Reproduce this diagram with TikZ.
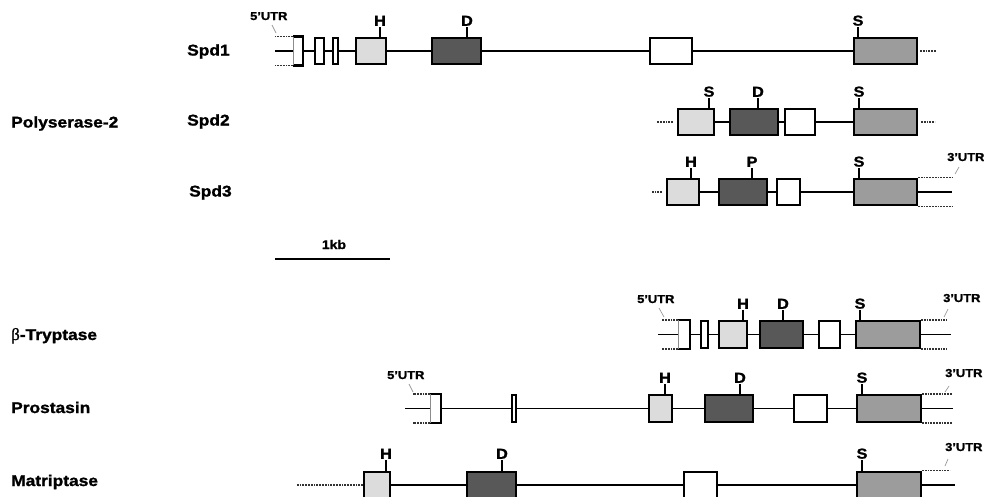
\documentclass[tikz,border=0pt]{standalone}
\usepackage{fontspec}
\setmainfont[FakeStretch=1.12, BoldFeatures={FakeBold=1.3}]{Liberation Sans}
\newfontfamily\greekfont[FakeBold=1.2]{Liberation Serif}
\definecolor{exlight}{HTML}{DCDCDC}
\definecolor{exdark}{HTML}{585858}
\definecolor{exmid}{HTML}{9C9C9C}
\definecolor{leadgray}{HTML}{9A9A9A}
\tikzset{
  exon/.style={draw=black, line width=2.3pt, inner sep=0pt, minimum height=26.5pt},
  lightex/.style={fill=exlight},
  darkex/.style={fill=exdark},
  midex/.style={fill=exmid},
  whiteex/.style={fill=white},
  backbone/.style={line width=1.9pt, black},
  utrdot/.style={line width=1.6pt, black!80, dash pattern=on 1.8pt off 1pt},
  utrside/.style={line width=0.8pt, black!45},
  leader/.style={line width=0.7pt, leadgray},
  sitetext/.style={font=\fontsize{14.5}{15}\selectfont\bfseries, inner sep=1pt, anchor=south},
  tickline/.style={line width=1.8pt, black},
  genelabel/.style={font=\fontsize{15.5}{17}\selectfont\bfseries, inner sep=0pt, anchor=base west},
  utrlabel/.style={font=\fontsize{11.5}{12}\selectfont\bfseries, inner sep=0pt, anchor=base west},
}
% name, x1, x2, ycenter, style
\newcommand\exonbox[5]{\node[exon,#5,minimum width={(#3-#2-2.3)*1pt}] (#1) at ({(#2+#3)/2},#4) {};}
% name, x1, x2, ycenter
\newcommand\utrexon[4]{%
  \node[exon,draw=none,fill=white,minimum width={(#3-#2-2.3)*1pt}] (#1) at ({(#2+#3)/2},#4) {};
  \draw[line width=2.3pt] (#1.north west) -- (#1.north east) -- (#1.south east) -- (#1.south west);
  \draw[utrside] (#1.north west) -- (#1.south west);}
% label name, box name, x, box top, letter
\newcommand\sitemark[5]{%
  \node[sitetext] (#1) at (#3,#4-10) {#5};
  \draw[tickline] (#1.south) -- (#1.south |- #2.north);}
\begin{document}
\begin{tikzpicture}[x=1pt,y=-1pt]
\useasboundingbox (0,0) rectangle (984,496);
\clip (0,0) rectangle (984,496);
\fill[white] (0,0) rectangle (984,496);

% ---------- labels on the left ----------
\node[genelabel] (spd1) at (187,55.5) {Spd1};
\node[genelabel] (spd2) at (187,125.5) {Spd2};
\node[genelabel] (spd3) at (189,196.5) {Spd3};
\node[genelabel] (poly) at (11,127.5) {Polyserase-2};
\node[genelabel] (btry) at (11,340) {{\greekfont\mdseries\fontsize{17}{17}\selectfont β}-Tryptase};
\node[genelabel] (pros) at (11,413) {Prostasin};
\node[genelabel] (matr) at (11,486) {Matriptase};

% ---------- Spd1 ----------
\utrexon{a1}{293}{303}{51}
\exonbox{a2}{314}{325}{51}{whiteex}
\exonbox{a3}{332}{339}{51}{whiteex}
\exonbox{a4}{355}{387}{51}{lightex}
\exonbox{a5}{431}{482}{51}{darkex}
\exonbox{a6}{649}{693}{51}{whiteex}
\exonbox{a7}{853}{918}{51}{midex}
\draw[backbone] (a1.east) -- (a2.west);
\draw[backbone] (a2.east) -- (a3.west);
\draw[backbone] (a3.east) -- (a4.west);
\draw[backbone] (a4.east) -- (a5.west);
\draw[backbone] (a5.east) -- (a6.west);
\draw[backbone] (a6.east) -- (a7.west);
\sitemark{a4s}{a4}{380}{37}{H}
\sitemark{a5s}{a5}{467}{37}{D}
\sitemark{a7s}{a7}{858}{37}{S}
\node[utrlabel] (a5utr) at (250,20) {5'UTR};
\draw[leader] (272,25) -- (276,33);
\draw[utrdot] (a1.north west) -- ++(-18,0);
\draw[utrdot] (a1.south west) -- ++(-18,0);
\draw[backbone] (a1.west) -- ++(-18,0);
\draw[utrdot] ([xshift=2pt]a7.east) -- ++(16,0);

% ---------- Spd2 ----------
\exonbox{b1}{677}{715}{122}{lightex}
\exonbox{b2}{729}{779}{122}{darkex}
\exonbox{b3}{784}{816}{122}{whiteex}
\exonbox{b4}{853}{918}{122}{midex}
\draw[backbone] (b1.east) -- (b2.west);
\draw[backbone] (b2.east) -- (b3.west);
\draw[backbone] (b3.east) -- (b4.west);
\sitemark{b1s}{b1}{709}{108}{S}
\sitemark{b2s}{b2}{758}{108}{D}
\sitemark{b4s}{b4}{859}{108}{S}
\draw[utrdot] ([xshift=-4pt]b1.west) -- ++(-16,0);
\draw[utrdot] ([xshift=3pt]b4.east) -- ++(14,0);

% ---------- Spd3 ----------
\exonbox{c1}{666}{700}{192}{lightex}
\exonbox{c2}{718}{768}{192}{darkex}
\exonbox{c3}{776}{801}{192}{whiteex}
\exonbox{c4}{853}{918}{192}{midex}
\draw[backbone] (c1.east) -- (c2.west);
\draw[backbone] (c2.east) -- (c3.west);
\draw[backbone] (c3.east) -- (c4.west);
\sitemark{c1s}{c1}{691}{178}{H}
\sitemark{c2s}{c2}{752}{178}{P}
\sitemark{c4s}{c4}{859}{178}{S}
\draw[utrdot] ([xshift=-4pt]c1.west) -- ++(-11,0);
\draw[utrdot] (c4.north east) -- ++(34,0);
\draw[utrdot] (c4.south east) -- ++(34,0);
\draw[backbone] (c4.east) -- ++(34,0);
\node[utrlabel] (c3utr) at (947,161) {3'UTR};
\draw[leader] (959,167) -- (955,174);

% ---------- scale bar ----------
\node[font=\fontsize{12.5}{13}\selectfont\bfseries, inner sep=0pt, anchor=base] (kb) at (334,249) {1kb};
\coordinate (sbl) at (275,259);
\coordinate (sbr) at (390,259);
\draw[line width=2pt] (sbl) -- (sbr);

% ---------- beta-Tryptase ----------
\utrexon{d1}{678}{690}{334.5}
\exonbox{d2}{700}{709}{334.5}{whiteex}
\exonbox{d3}{718}{748}{334.5}{lightex}
\exonbox{d4}{759}{804}{334.5}{darkex}
\exonbox{d5}{818}{841}{334.5}{whiteex}
\exonbox{d6}{855}{921}{334.5}{midex}
\draw[backbone] (d1.east) -- (d2.west);
\draw[backbone] (d2.east) -- (d3.west);
\draw[backbone] (d3.east) -- (d4.west);
\draw[backbone] (d4.east) -- (d5.west);
\draw[backbone] (d5.east) -- (d6.west);
\sitemark{d3s}{d3}{743}{320}{H}
\sitemark{d4s}{d4}{783}{320}{D}
\sitemark{d6s}{d6}{860}{320}{S}
\node[utrlabel] (d5utr) at (637,303) {5'UTR};
\draw[leader] (659,308) -- (664,317);
\draw[utrdot] (d1.north west) -- ++(-16,0);
\draw[utrdot] (d1.south west) -- ++(-16,0);
\draw[backbone] (d1.west) -- ++(-20,0);
\node[utrlabel] (d3utr) at (943,302) {3'UTR};
\draw[leader] (948,309) -- (944,317);
\draw[utrdot] (d6.north east) -- ++(26,0);
\draw[utrdot] (d6.south east) -- ++(26,0);
\draw[backbone] (d6.east) -- ++(30,0);

% ---------- Prostasin ----------
\utrexon{e1}{430}{441}{408.5}
\exonbox{e2}{511}{517}{408.5}{whiteex}
\exonbox{e3}{648}{673}{408.5}{lightex}
\exonbox{e4}{704}{754}{408.5}{darkex}
\exonbox{e5}{793}{828}{408.5}{whiteex}
\exonbox{e6}{856}{922}{408.5}{midex}
\draw[backbone] (e1.east) -- (e2.west);
\draw[backbone] (e2.east) -- (e3.west);
\draw[backbone] (e3.east) -- (e4.west);
\draw[backbone] (e4.east) -- (e5.west);
\draw[backbone] (e5.east) -- (e6.west);
\sitemark{e3s}{e3}{665}{394}{H}
\sitemark{e4s}{e4}{740}{394}{D}
\sitemark{e6s}{e6}{862}{394}{S}
\node[utrlabel] (e5utr) at (387,379) {5'UTR};
\draw[leader] (409,384) -- (413,392);
\draw[utrdot] (e1.north west) -- ++(-17,0);
\draw[utrdot] (e1.south west) -- ++(-17,0);
\draw[backbone] (e1.west) -- ++(-25,0);
\node[utrlabel] (e3utr) at (945,377) {3'UTR};
\draw[leader] (949,386) -- (945,392);
\draw[utrdot] (e6.north east) -- ++(30,0);
\draw[utrdot] (e6.south east) -- ++(30,0);
\draw[backbone] (e6.east) -- ++(31,0);

% ---------- Matriptase ----------
\exonbox{f1}{363}{391}{485}{lightex}
\exonbox{f2}{466}{517}{485}{darkex}
\exonbox{f3}{683}{718}{485}{whiteex}
\exonbox{f4}{856}{922}{485}{midex}
\draw[backbone] (f1.east) -- (f2.west);
\draw[backbone] (f2.east) -- (f3.west);
\draw[backbone] (f3.east) -- (f4.west);
\sitemark{f1s}{f1}{386}{470}{H}
\sitemark{f2s}{f2}{502}{470}{D}
\sitemark{f4s}{f4}{862}{470}{S}
\draw[utrdot] (f1.west) -- ++(-66,0);
\node[utrlabel] (f3utr) at (945,451) {3'UTR};
\draw[leader] (948,459) -- (945,466);
\draw[utrdot] (f4.north east) -- ++(28,0);
\draw[utrdot] (f4.south east) -- ++(28,0);
\draw[backbone] (f4.east) -- ++(33,0);
\end{tikzpicture}
\end{document}
